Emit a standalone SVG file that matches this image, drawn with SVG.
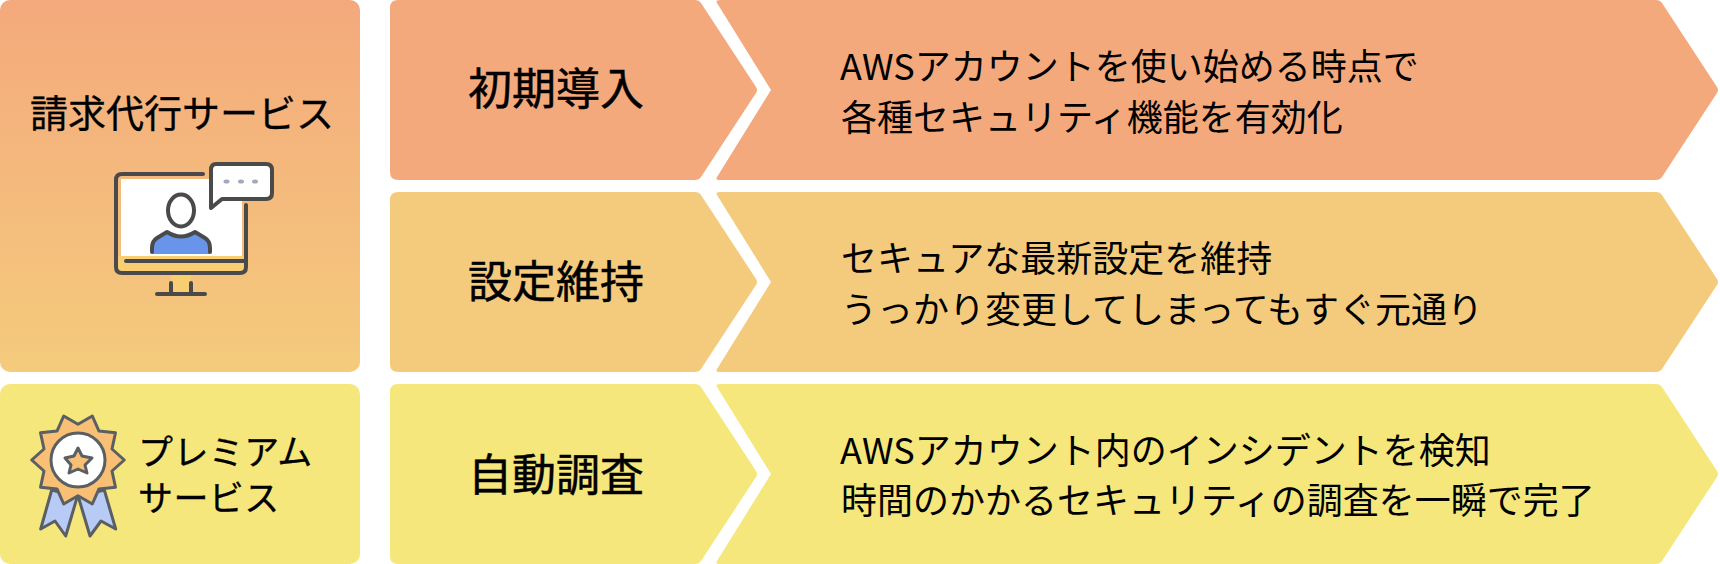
<svg xmlns="http://www.w3.org/2000/svg" width="1720" height="564" viewBox="0 0 1720 564">
<style>
text{font-family:"Noto Sans CJK JP","Noto Sans",sans-serif;fill:#000}
.h{font-size:44px;font-weight:400;text-anchor:middle;stroke:#000;stroke-width:.5px}
.d{font-size:36px}
.s{font-size:38px;stroke:#000;stroke-width:.3px}
.p{font-size:35px;letter-spacing:.4px;stroke:#000;stroke-width:.3px}
.ln{fill:none;stroke:#4a4a4a;stroke-width:4;stroke-linecap:round;stroke-linejoin:round}
.m{stroke:#5a5f63;stroke-width:3;stroke-linejoin:round}
</style>
<defs>
<linearGradient id="g" x1="0" y1="0" x2="0" y2="1"><stop offset="0" stop-color="#F4A97C"/><stop offset="1" stop-color="#F4CB7C"/></linearGradient>
<path id="arrowL" d="M398 0H695Q699 0 701 3L756 87Q758 90 756 93L701 177Q699 180 695 180H398Q390 180 390 172V8Q390 0 398 0Z"/>
<path id="arrowR" d="M720 0H1656Q1660 0 1662 3L1717 87Q1719 90 1717 93L1662 177Q1660 180 1656 180H720Q715 180 717 177L771 90L717 3Q715 0 720 0Z"/>
</defs>
<g id="panel-billing">
<rect width="360" height="372" rx="10" fill="url(#g)"/>
<text class="s" x="30" y="127">請求代行サービス</text>
<g id="icon-monitor">
<rect x="121" y="179" width="121" height="77" fill="#fff"/>
<rect x="117" y="256" width="129" height="17" fill="#F9CD72"/>
<rect x="171" y="275" width="20" height="18" fill="#F9CD72"/>
<path d="M152 254V248Q152 241 158 237L167 231Q181 240 195 231L204 237Q210 241 210 248V254Z" fill="#6895EA"/>
<path class="ln" d="M203 174H122Q116 174 116 180V267Q116 273 122 273H240Q246 273 246 267V205"/>
<path class="ln" d="M126 261H245"/>
<path class="ln" d="M171 283V293M191 283V293M157 294H205"/>
<path class="ln" d="M152 252V248Q152 241 157 238L167 232Q181 241 195 232L205 238Q210 241 210 248V252"/>
<ellipse class="ln" cx="181" cy="210.500" rx="13" ry="16" style="fill:#fff"/>
<path class="ln" d="M216 164H266Q272 164 272 170V193Q272 199 266 199H222L211 208V170Q211 164 216 164Z" style="fill:#fff"/>
<g fill="#A3A8BC"><ellipse cx="226.500" cy="181.500" rx="3" ry="2"/><ellipse cx="241" cy="181.500" rx="3" ry="2"/><ellipse cx="255" cy="181.500" rx="3" ry="2"/></g>
</g>
</g>
<g id="panel-premium">
<rect y="384" width="360" height="180" rx="10" fill="#F5E77B"/>
<text class="p" x="138" y="465">プレミアム</text>
<text class="p" x="138" y="511">サービス</text>
<g id="icon-medal">
<path class="m" fill="#B7CBF5" d="M51.700 490L40.700 529L55 521L65.700 536L77.300 496.700Z"/>
<path class="m" fill="#B7CBF5" d="M104.300 490L115.700 529L101 521L90 536L78.300 496.700Z"/>
<path class="m" fill="#F9BF75" d="M78 424.300L92.300 416L99 431.100L115.500 432.800L112 449L124.300 460L112 471L115.500 487.200L99 488.900L92.300 504L78 495.700L63.700 504L57 488.900L40.500 487.200L44 471L31.700 460L44 449L40.500 432.800L57 431.100L63.700 416Z"/>
<circle class="m" cx="78" cy="460" r="27" fill="#fff"/>
<path class="m" fill="#F9BF75" d="M78 448L82 456L92 458L85 465L87 473L78 469L69 473L71 465L65 458L74 456Z"/>
</g>
</g>
<g id="row-1" fill="#F4A97C">
<use href="#arrowL"/><use href="#arrowR"/>
<text class="h" x="556" y="105">初期導入</text>
<text class="d" x="840" y="80">AWSアカウントを使い始める時点で</text>
<text class="d" x="841" y="131">各種セキュリティ機能を有効化</text>
</g>
<g id="row-2" fill="#F4CB7C" transform="translate(0 192)">
<use href="#arrowL"/><use href="#arrowR"/>
<text class="h" x="556" y="106">設定維持</text>
<text class="d" x="841" y="80">セキュアな最新設定を維持</text>
<text class="d" x="841" y="131">うっかり変更してしまってもすぐ元通り</text>
</g>
<g id="row-3" fill="#F5E77B" transform="translate(0 384)">
<use href="#arrowL"/><use href="#arrowR"/>
<text class="h" x="556" y="107">自動調査</text>
<text class="d" x="840" y="80">AWSアカウント内のインシデントを検知</text>
<text class="d" x="841" y="130">時間のかかるセキュリティの調査を一瞬で完了</text>
</g>
<g id="connectors"/>
</svg>
